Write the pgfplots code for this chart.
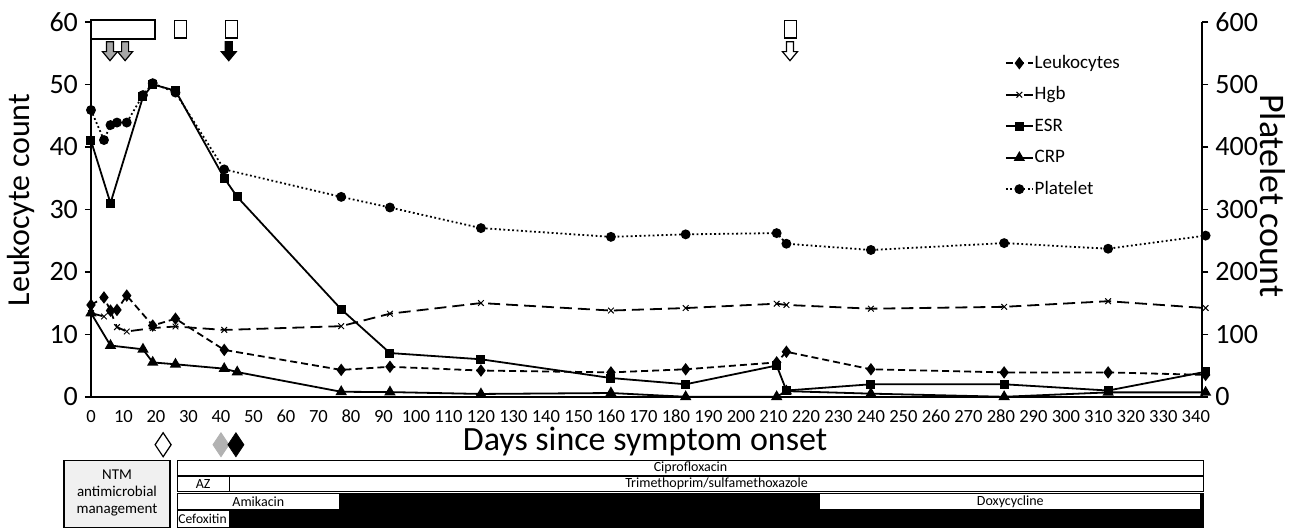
\documentclass[border=0pt]{standalone}
\usepackage{fontspec}
\setmainfont{Carlito}
\usepackage{pgfplots}
\pgfplotsset{compat=1.18}

\pgfplotsset{
  base/.style={width=556pt, height=187.5pt, scale only axis, xmin=0, xmax=342, clip=false,
    axis line style={line width=1pt, black},
    /pgf/number format/assume math mode=true},
  leuk/.style={black, line width=0.9pt, dash pattern=on 3.5pt off 2pt, mark=diamond*, mark size=2.4pt, mark options={solid}},
  hgb/.style={black, line width=0.9pt, dash pattern=on 6pt off 3pt, mark=x, mark size=2pt, mark options={solid, line width=0.5pt}},
  esr/.style={black, line width=0.9pt, solid, mark=square*, mark size=1.8pt},
  crp/.style={black, line width=0.9pt, solid, mark=triangle*, mark size=2.4pt},
  plt/.style={black, line width=0.9pt, dash pattern=on 0.9pt off 1.3pt, mark=*, mark size=2pt, mark options={solid}},
}

% down arrow above the plot: #1 day, #2 fill
\newcommand{\darrow}[2]{\draw[line width=0.6pt, fill=#2] (axis cs:#1,56.85) ++(-1.75pt,0) -- ++(3.5pt,0) -- ++(0,-5pt) -- ++(2pt,0) -- ++(-3.75pt,-4.5pt) -- ++(-3.75pt,4.5pt) -- ++(2pt,0) -- cycle;}
% small box above the plot
\newcommand{\topbox}[1]{\draw[line width=0.6pt, fill=white] (axis cs:#1,60.3) ++(-3pt,0) rectangle ++(6pt,-9pt);}
% diamond below the axis: #1 day, #2 draw options
\newcommand{\ddiam}[2]{\draw[#2] (axis cs:#1,-7.68) ++(0,6pt) -- ++(4pt,-6pt) -- ++(-4pt,-6pt) -- ++(-4pt,6pt) -- cycle;}

\begin{document}
\begin{tikzpicture}
\begin{axis}[base,
  ymin=0, ymax=60,
  axis x line*=bottom, axis y line*=left,
  xtick={0,10,...,340}, ytick={0,10,...,60},
  x tick label style={font=\fontsize{9.3}{10}\selectfont, text height=6.5pt, text depth=0pt},
  y tick label style={font=\fontsize{14}{16}\selectfont},
  x tick style={draw=none},
  y tick style={line width=0.8pt, black},
  tick align=outside, major tick length=3pt,
]
% Leukocytes
\addplot[leuk] coordinates {
  (0,14.7) (4,15.9) (6,13.8) (8,13.9) (11,16.2) (19,11.4) (26,12.5) (41,7.5)
  (77,4.3) (92,4.8) (120,4.2) (160,3.9) (183,4.4) (211,5.5) (214,7.2)
  (240,4.4) (281,3.9) (313,3.9) (343,3.5)
};
% Hgb
\addplot[hgb] coordinates {
  (0,13.4) (4,12.85) (6,13.7) (8,11.15) (11,10.45) (19,11.0) (26,11.25) (41,10.7)
  (77,11.3) (92,13.3) (120,15.0) (160,13.8) (183,14.2) (211,14.9) (214,14.7)
  (240,14.1) (281,14.4) (313,15.3) (343,14.2)
};
% ESR
\addplot[esr] coordinates {
  (0,41) (6,31) (16,48) (19,50) (26,49) (41,35) (45,32)
  (77,14) (92,7) (120,6) (160,3) (183,2) (211,5) (214,1)
  (240,2) (281,2) (313,1) (343,4)
};
% CRP
\addplot[crp] coordinates {
  (0,13.4) (6,8.2) (16,7.6) (19,5.5) (26,5.2) (41,4.5) (45,3.95)
  (77,0.8) (92,0.75) (120,0.45) (160,0.6) (183,0) (211,0) (214,0.9)
  (240,0.5) (281,0) (313,0.7) (343,0.7)
};

% annotations above the plot
\draw[line width=0.8pt, fill=white] (axis cs:0,60.3) rectangle (axis cs:19.7,57.3);
\topbox{27.5}
\topbox{43.3}
\topbox{215.3}
\darrow{5.85}{gray!70}
\darrow{10.5}{gray!70}
\darrow{42.4}{black}
\darrow{215.1}{white}

% axis titles
\node[font=\fontsize{17}{19}\selectfont] at (axis cs:170.5,-7.1) {Days since symptom onset};
\node[font=\fontsize{16}{18}\selectfont, rotate=90] at (axis cs:-21.5,31.5) {Leukocyte count};

% diamonds below the axis
\ddiam{22.2}{line width=0.6pt, fill=white}
\ddiam{40}{fill=gray!60, draw=gray!60}
\ddiam{44.6}{fill=black}

% antimicrobial management table
\draw[line width=0.6pt, fill=gray!12] (axis cs:-8.3,-10.24) rectangle (axis cs:24.3,-20.96);
\node[font=\fontsize{7.5}{8.5}\selectfont, align=center] at (axis cs:8,-15.4) {NTM\\antimicrobial\\management};
\draw[line width=0.5pt, fill=white] (axis cs:26.5,-10.24) rectangle (axis cs:342.5,-12.64);
\node[font=\fontsize{7}{7.5}\selectfont] at (axis cs:184.5,-11.44) {Ciprofloxacin};
\draw[line width=0.5pt, fill=white] (axis cs:26.5,-12.8) rectangle (axis cs:42.5,-15.2);
\node[font=\fontsize{7}{7.5}\selectfont] at (axis cs:34.5,-14.0) {AZ};
\draw[line width=0.5pt, fill=white] (axis cs:42.5,-12.8) rectangle (axis cs:342.5,-15.2);
\node[font=\fontsize{7}{7.5}\selectfont] at (axis cs:192.5,-14.0) {Trimethoprim/sulfamethoxazole};
\fill[black] (axis cs:26.5,-15.4) rectangle (axis cs:342.5,-20.96);
\draw[line width=0.5pt, fill=white] (axis cs:26.5,-15.52) rectangle (axis cs:76.6,-18.08);
\node[font=\fontsize{7}{7.5}\selectfont] at (axis cs:51.5,-16.8) {Amikacin};
\draw[line width=0.5pt, fill=white] (axis cs:224.3,-15.52) rectangle (axis cs:341.5,-18.08);
\node[font=\fontsize{7}{7.5}\selectfont] at (axis cs:282.9,-16.8) {Doxycycline};
\draw[line width=0.5pt, fill=white] (axis cs:26.5,-18.24) rectangle (axis cs:42.5,-20.96);
\node[font=\fontsize{6.8}{7}\selectfont, anchor=west, inner sep=0.4pt] at (axis cs:26.5,-19.6) {Cefoxitin};

\coordinate (bbA) at (axis cs:-28,-20.96);
\coordinate (bbB) at (axis cs:370.2,63.52);
\end{axis}

\begin{axis}[base,
  ymin=0, ymax=600,
  axis y line*=right, axis x line=none,
  ytick={0,100,...,600},
  y tick label style={font=\fontsize{14}{16}\selectfont},
  y tick style={line width=0.8pt, black},
  tick align=outside, major tick length=3pt,
  legend style={draw=none, fill=none, at={(rel axis cs:0.822,0.915)}, anchor=north west,
    font=\fontsize{9.5}{11}\selectfont, row sep=6.75pt, column sep=0.5pt, inner sep=0pt,
    nodes={inner sep=0pt, text height=7pt, text depth=2pt}},
  legend cell align=left,
  legend image code/.code={
    \draw[#1, mark=none] (0pt,0pt) -- (13.5pt,0pt);
    \path[#1, solid] plot coordinates {(6.75pt,0pt)};},
]
\addlegendimage{leuk}
\addlegendentry{Leukocytes}
\addlegendimage{hgb}
\addlegendentry{Hgb}
\addlegendimage{esr}
\addlegendentry{ESR}
\addlegendimage{crp}
\addlegendentry{CRP}
% Platelet
\addplot[plt] coordinates {
  (0,459) (4,411) (6,435) (8,439) (11,439) (16,483) (19,502) (26,487) (41,364)
  (77,320) (92,303) (120,270) (160,256) (183,260) (211,262) (214,245)
  (240,235) (281,246) (313,237) (343,258)
};
\addlegendentry{Platelet}
\node[font=\fontsize{18}{20}\selectfont, rotate=-90] at (axis cs:363.7,322) {Platelet count};
\end{axis}
\pgfresetboundingbox
\useasboundingbox (bbA) rectangle (bbB);
\end{tikzpicture}
\end{document}
